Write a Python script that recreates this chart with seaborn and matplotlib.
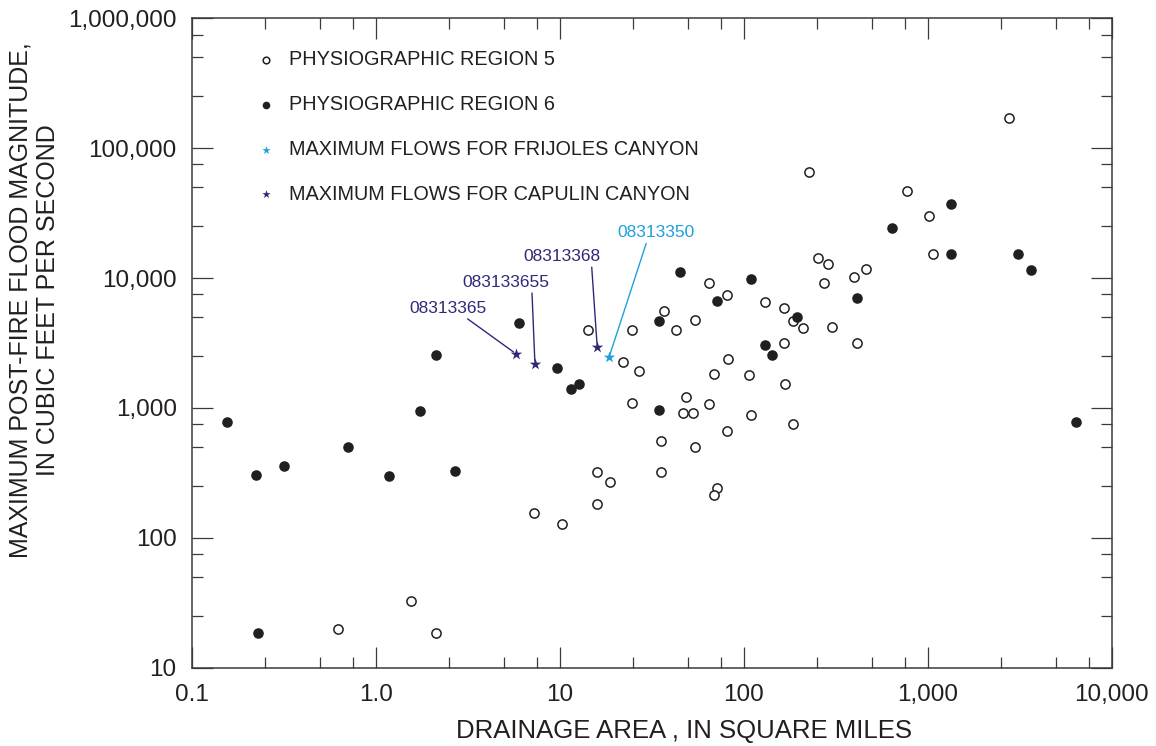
"""Post-fire peak flows against drainage area, regions 5 and 6."""

import matplotlib

matplotlib.use("Agg")
import matplotlib.pyplot as plt
import pandas as pd
import seaborn as sns
from matplotlib.ticker import FixedFormatter, FixedLocator, LogLocator, NullFormatter

# physiographic region 5 (open circles)
REGION5_AREA = [
    7.22, 1.56, 0.626, 2.12, 14.2, 24.8, 36.7, 42.9, 54.6, 64.5, 80.9, 22.1, 26.9,
    24.8, 69.2, 82.4, 48.6, 46.6, 52.8, 64.5, 80.9, 35.5, 54.6, 35.5, 15.9, 18.8,
    15.9, 71.3, 68.7, 10.3, 131, 166, 185, 209, 254, 287, 275, 396, 460, 301, 414,
    166, 107, 167, 110, 185, 2755, 227, 771, 1021, 1069,
]
REGION5_FLOW = [
    156, 32.4, 19.7, 18.5, 3980, 3980, 5570, 4000, 4730, 9200, 7400, 2260, 1930,
    1090, 1840, 2400, 1220, 920, 920, 1070, 669, 561, 501, 320, 320, 268,
    183, 241, 213, 128, 6570, 5850, 4670, 4150, 14300, 12900, 9200, 10200, 11700, 4220, 3180,
    3180, 1800, 1540, 878, 749, 170000, 65700, 47000, 30000, 15200,
]

# physiographic region 6 (filled circles)
REGION6_AREA = [
    0.156, 0.224, 0.319, 0.707, 1.18, 1.74, 2.12, 2.70, 5.98, 0.228, 9.67, 12.7,
    11.5, 45.1, 71.9, 34.5, 34.5, 110, 195, 131, 142, 637, 1340, 1340, 3100, 3630,
    411, 6400,
]
REGION6_FLOW = [
    780, 303, 358, 504, 300, 948, 2540, 324, 4510, 18.4, 2040, 1540,
    1390, 11200, 6650, 4690, 966, 9830, 5040, 3050, 2540, 24100, 37100, 15300, 15200, 11500,
    6980, 780,
]

FRIJOLES_SITES = ["08313350"]
FRIJOLES_AREA = [18.6]
FRIJOLES_FLOW = [2480]

CAPULIN_SITES = ["08313365", "083133655", "08313368"]
CAPULIN_AREA = [5.77, 7.34, 16.0]
CAPULIN_FLOW = [2620, 2190, 2950]

X_TICKS = [0.1, 1, 10, 100, 1000, 10000]
X_TICK_LABELS = ["0.1", "1.0", "10", "100", "1,000", "10,000"]
Y_TICKS = [10, 100, 1000, 10000, 100000, 1000000]
Y_TICK_LABELS = ["10", "100", "1,000", "10,000", "100,000", "1,000,000"]

INK = "#231f20"
AXIS = "#3a3a3a"
FRIJOLES_BLUE = "#1ea0dc"
CAPULIN_NAVY = "#2e2a78"

# label offset from its star in points (dx, dy) and where the leader leaves the text
LABEL_LAYOUT = {
    "08313365": (-49, 29.5, 0.70),
    "083133655": (-21, 55.4, 0.80),
    "08313368": (-25.2, 61.9, 0.88),
    "08313350": (33.5, 86, 0.39),
}


def _label_sites(ax, sites, areas, flows, color):
    for site, x, y in zip(sites, areas, flows):
        dx, dy, rel = LABEL_LAYOUT[site]
        ax.annotate(
            site,
            xy=(x, y),
            xytext=(dx, dy),
            textcoords="offset points",
            ha="center",
            va="baseline",
            fontsize=12.5,
            color=color,
            arrowprops=dict(
                arrowstyle="-",
                color=color,
                lw=1.0,
                shrinkA=0,
                shrinkB=2,
                relpos=(rel, 0),
            ),
        )


def main():
    sns.set_theme(style="ticks")
    plt.rcParams["font.family"] = ["Liberation Sans", "DejaVu Sans"]
    plt.rcParams["text.color"] = INK

    fig = plt.figure(figsize=(11.56, 7.46), dpi=100)
    ax = fig.add_axes([0.1658, 0.105, 0.7958, 0.8705])

    r5 = pd.DataFrame({"area": REGION5_AREA, "flow": REGION5_FLOW})
    r6 = pd.DataFrame({"area": REGION6_AREA, "flow": REGION6_FLOW})
    fr = pd.DataFrame({"area": FRIJOLES_AREA, "flow": FRIJOLES_FLOW})
    ca = pd.DataFrame({"area": CAPULIN_AREA, "flow": CAPULIN_FLOW})

    sns.scatterplot(
        data=r5, x="area", y="flow", ax=ax, marker="o", s=44,
        color="white", edgecolor=INK, linewidth=1.1,
        label="PHYSIOGRAPHIC REGION 5", zorder=3,
    )
    sns.scatterplot(
        data=r6, x="area", y="flow", ax=ax, marker="o", s=58,
        color=INK, edgecolor=INK, linewidth=0,
        label="PHYSIOGRAPHIC REGION 6", zorder=3,
    )
    sns.scatterplot(
        data=fr, x="area", y="flow", ax=ax, marker="*", s=75,
        color=FRIJOLES_BLUE, linewidth=0,
        label="MAXIMUM FLOWS FOR FRIJOLES CANYON", zorder=4,
    )
    sns.scatterplot(
        data=ca, x="area", y="flow", ax=ax, marker="*", s=75,
        color=CAPULIN_NAVY, linewidth=0,
        label="MAXIMUM FLOWS FOR CAPULIN CANYON", zorder=4,
    )

    _label_sites(ax, CAPULIN_SITES, CAPULIN_AREA, CAPULIN_FLOW, CAPULIN_NAVY)
    _label_sites(ax, FRIJOLES_SITES, FRIJOLES_AREA, FRIJOLES_FLOW, FRIJOLES_BLUE)

    ax.set_xscale("log")
    ax.set_yscale("log")
    ax.set_xlim(X_TICKS[0], X_TICKS[-1])
    ax.set_ylim(Y_TICKS[0], Y_TICKS[-1])

    for axis, ticks, labels in (
        (ax.xaxis, X_TICKS, X_TICK_LABELS),
        (ax.yaxis, Y_TICKS, Y_TICK_LABELS),
    ):
        axis.set_major_locator(FixedLocator(ticks))
        axis.set_major_formatter(FixedFormatter(labels))
        axis.set_minor_locator(LogLocator(base=10, subs=(2.5, 5, 7.5)))
        axis.set_minor_formatter(NullFormatter())

    ax.tick_params(
        which="both", direction="in", top=True, right=True,
        color=AXIS, width=0.9, labelcolor=INK, labelsize=17.5,
    )
    ax.tick_params(which="major", length=15)
    ax.tick_params(which="minor", length=8)
    ax.tick_params(axis="x", which="major", pad=12)
    ax.tick_params(axis="y", which="major", pad=10.8)

    for spine in ax.spines.values():
        spine.set_color(AXIS)
        spine.set_linewidth(1.1)

    ax.set_xlabel("DRAINAGE AREA , IN SQUARE MILES", fontsize=18.5, color=INK)
    ax.set_ylabel(
        "MAXIMUM POST-FIRE FLOOD MAGNITUDE,\nIN CUBIC FEET PER SECOND",
        fontsize=18, color=INK, multialignment="center",
    )
    ax.xaxis.label.set_va("center")
    ax.yaxis.label.set_va("center")
    ax.xaxis.set_label_coords(0.5355, -0.097)
    ax.yaxis.set_label_coords(-0.171, 0.566)

    ax.legend(
        loc="upper left",
        bbox_to_anchor=(0.0705, 0.951),
        frameon=False,
        fontsize=14.3,
        borderpad=0,
        borderaxespad=0,
        handlelength=0.95,
        handletextpad=0.7,
        labelspacing=1.30,
        markerscale=0.72,
        labelcolor=INK,
    )

    fig.savefig("out.png", dpi=100, facecolor="white")


if __name__ == "__main__":
    main()
